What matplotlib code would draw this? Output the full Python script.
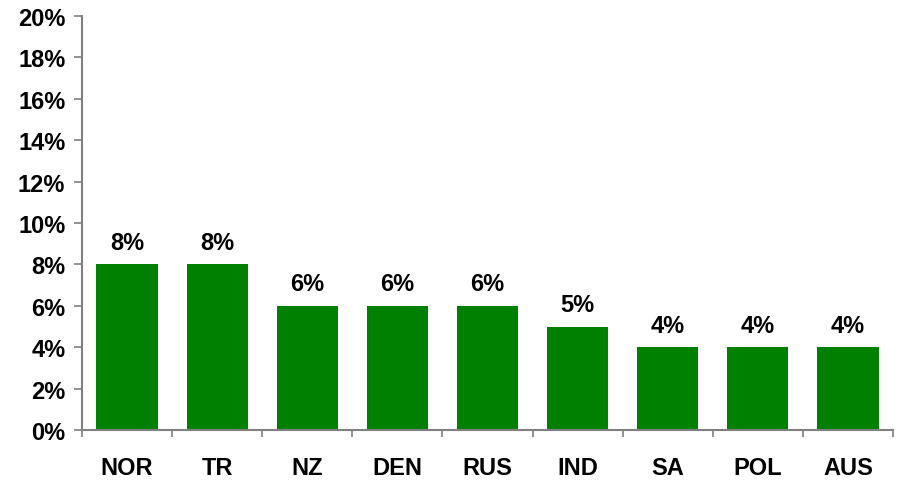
import matplotlib
matplotlib.use("Agg")
import matplotlib.pyplot as plt
import numpy as np

categories = ["NOR", "TR", "NZ", "DEN", "RUS", "IND", "SA", "POL", "AUS"]
values = [8, 8, 6, 6, 6, 5, 4, 4, 4]
yticks = [0, 2, 4, 6, 8, 10, 12, 14, 16, 18, 20]

plt.rcParams['font.family'] = ['Liberation Sans', 'DejaVu Sans']
plt.rcParams['font.weight'] = 'bold'

fig = plt.figure(figsize=(8.97, 4.81), dpi=100)
ax = fig.add_axes([82/897, 50/481, (893-82)/897, (431-17)/481])

x = np.arange(len(categories))
ax.bar(x, values, width=0.68, color='#008000', zorder=2)
for xi, v in zip(x, values):
    ax.text(xi, v + 0.5, f"{v}%", ha='center', va='bottom', fontsize=17, fontweight='bold')

ax.set_xlim(-0.5, len(categories) - 0.5)
ax.set_ylim(0, 20)
ax.set_yticks(yticks)
ax.set_yticklabels([f"{t}%" for t in yticks], fontsize=17, fontweight='bold')
ax.set_xticks(x)
ax.set_xticklabels(categories, fontsize=17, fontweight='bold')
ax.tick_params(axis='x', length=0, pad=19)
ax.set_xticks(np.arange(-0.5, len(categories)), minor=True)
ax.tick_params(axis='x', which='minor', length=5, width=1.2, color='#808080')
ax.tick_params(axis='y', length=6, width=1.2, color='#808080', pad=6)

for s in ['top', 'right']:
    ax.spines[s].set_visible(False)
for s in ['left', 'bottom']:
    ax.spines[s].set_color('#808080')
    ax.spines[s].set_linewidth(1.5)

fig.savefig("out.png", dpi=100)
